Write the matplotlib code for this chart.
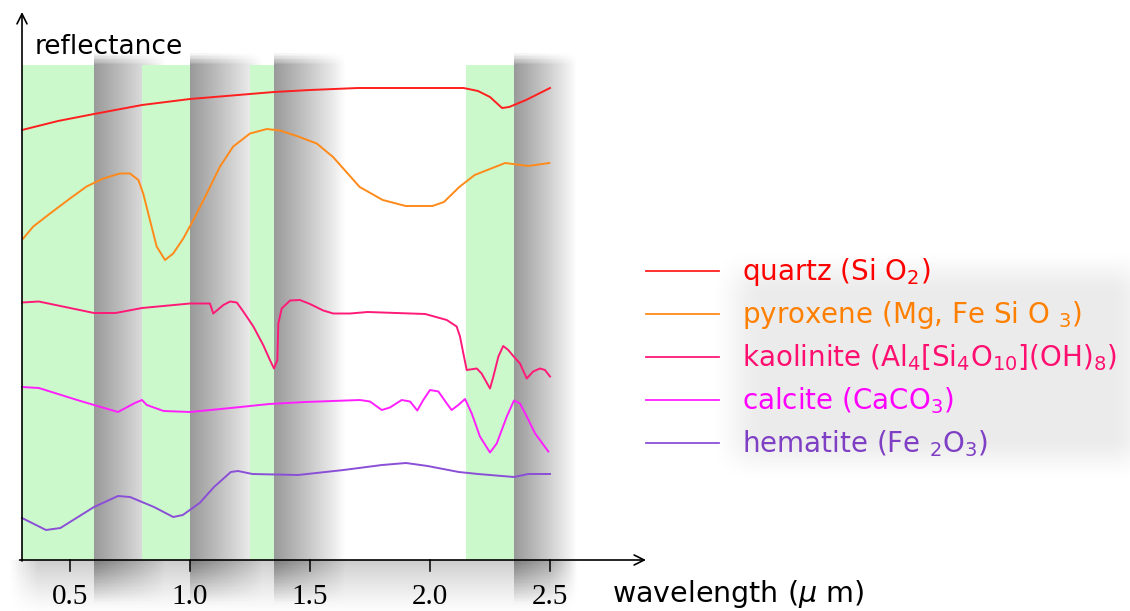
import numpy as np
import matplotlib
matplotlib.use("Agg")
import matplotlib.pyplot as plt
from matplotlib.patches import Rectangle

# wavelength (um) / reflectance (relative units, 0 = axis, ~100 = top of chart)
quartz_x = [0.30, 0.45, 0.60, 0.80, 1.00, 1.20, 1.35, 1.50, 1.70, 2.00, 2.14, 2.20, 2.25, 2.30, 2.33, 2.40, 2.50]
quartz_y = [86.0, 87.8, 89.2, 91.0, 92.2, 93.0, 93.6, 94.0, 94.4, 94.4, 94.4, 93.8, 92.6, 90.4, 90.6, 92.0, 94.4]

pyroxene_x = [0.305, 0.347, 0.417, 0.50, 0.569, 0.639, 0.708, 0.75, 0.785, 0.805, 0.833, 0.861, 0.896,
              0.93, 0.972, 1.014, 1.07, 1.125, 1.18, 1.25, 1.32, 1.375, 1.445, 1.528, 1.596, 1.707,
              1.803, 1.899, 2.01, 2.058, 2.122, 2.186, 2.313, 2.409, 2.497]
pyroxene_y = [64.3, 66.7, 69.3, 72.3, 74.7, 76.3, 77.3, 77.3, 76.0, 73.3, 68.0, 62.7, 60.0,
              61.3, 64.3, 68.0, 73.3, 78.7, 82.7, 85.3, 86.2, 85.9, 84.8, 83.3, 80.6, 74.6,
              72.0, 70.8, 70.8, 71.6, 74.6, 77.0, 79.4, 78.8, 79.4]

kaolinite_x = [0.30, 0.37, 0.60, 0.69, 0.80, 1.00, 1.083, 1.097, 1.139, 1.167, 1.195, 1.222, 1.264,
               1.305, 1.333, 1.35, 1.364, 1.368, 1.382, 1.417, 1.458, 1.50, 1.555, 1.597, 1.667,
               1.74, 1.98, 2.07, 2.111, 2.125, 2.139, 2.153, 2.195, 2.215, 2.25, 2.264, 2.285,
               2.305, 2.326, 2.347, 2.375, 2.403, 2.43, 2.458, 2.479, 2.50]
kaolinite_y = [51.5, 51.7, 49.4, 49.4, 50.4, 51.3, 51.3, 49.3, 51.0, 51.7, 51.5, 49.7, 46.7,
               43.0, 40.0, 38.3, 40.0, 47.3, 50.3, 51.9, 52.0, 51.2, 49.9, 49.3, 49.3,
               49.6, 49.2, 48.0, 46.7, 44.7, 41.3, 38.0, 38.3, 37.3, 34.3, 36.7, 40.7,
               42.8, 42.0, 40.8, 39.3, 36.3, 37.7, 38.3, 38.0, 36.7]

calcite_x = [0.30, 0.37, 0.53, 0.60, 0.70, 0.77, 0.80, 0.82, 0.89, 1.00, 1.17, 1.33, 1.48, 1.708,
             1.75, 1.799, 1.833, 1.882, 1.917, 1.947, 1.972, 2.0, 2.035, 2.07, 2.09, 2.118, 2.146,
             2.174, 2.208, 2.25, 2.278, 2.32, 2.35, 2.375, 2.403, 2.438, 2.493]
calcite_y = [34.6, 34.4, 32.0, 31.0, 29.6, 31.4, 32.0, 31.0, 29.8, 29.6, 30.4, 31.2, 31.6, 32.0,
             31.7, 30.0, 30.5, 32.0, 31.7, 29.9, 32.0, 34.0, 33.7, 31.3, 30.0, 31.0, 32.2,
             29.3, 24.7, 21.5, 23.3, 28.7, 31.9, 31.3, 28.7, 25.3, 21.7]

hematite_x = [0.30, 0.40, 0.46, 0.60, 0.70, 0.75, 0.85, 0.93, 0.97, 1.04, 1.10, 1.17, 1.20, 1.26, 1.45,
              1.64, 1.80, 1.90, 1.99, 2.12, 2.20, 2.35, 2.41, 2.50]
hematite_y = [8.4, 6.0, 6.4, 10.6, 12.8, 12.6, 10.6, 8.6, 9.0, 11.4, 14.6, 17.6, 17.8, 17.2, 17.0,
              18.0, 19.0, 19.4, 18.8, 17.6, 17.2, 16.6, 17.2, 17.2]

labels = [r"quartz (Si O$_2$)",
          r"pyroxene (Mg, Fe Si O $_3$)",
          r"kaolinite (Al$_4$[Si$_4$O$_{10}$](OH)$_8$)",
          r"calcite (CaCO$_3$)",
          r"hematite (Fe $_2$O$_3$)"]
line_colors = ["#ff1f1f", "#ff8a1a", "#ff1a78", "#ff1fff", "#8a4fd6"]
text_colors = ["#ff0000", "#ff8000", "#ff0f70", "#ff00ff", "#7f3fc4"]

# atmospheric windows (green) and the grey absorption fall-off after each
windows = [(0.30, 0.60), (0.80, 1.00), (1.25, 1.35), (2.15, 2.35)]
falloff = [0.30, 0.30, 0.30, 0.26]
ticks = [0.5, 1.0, 1.5, 2.0, 2.5]
tick_labels = ["0.5", "1.0", "1.5", "2.0", "2.5"]

plt.rcParams['font.family'] = ['DejaVu Sans']
plt.rcParams['mathtext.fontset'] = 'dejavusans'

fig = plt.figure(figsize=(11.3, 6.11), dpi=100)
ax = fig.add_axes([0, 0, 1, 1])


def shade(x0, width, peak, top=99.0, bottom=0.0, ftop=2.5, fbot=9.0):
    # black with alpha, so the strip only ever darkens what lies under it
    t = np.linspace(0, 1, 120)
    dark = peak * (1 - t) ** 0.9
    ys = np.linspace(bottom - fbot, top + ftop, 400)
    up = np.clip((ys - (bottom - fbot)) / fbot, 0, 1)
    dn = np.clip(((top + ftop) - ys) / ftop, 0, 1)
    img = np.zeros((len(ys), len(t), 4))
    img[..., 3] = np.minimum(up, dn)[:, None] * dark[None, :]
    ax.imshow(img, extent=(x0, x0 + width, bottom - fbot, top + ftop), origin='lower',
              aspect='auto', interpolation='nearest', zorder=1)


def soft_box(x0, x1, y0, y1, bx, by, alpha, zorder=0):
    xs = np.linspace(x0 - bx, x1 + bx, 240)
    ys = np.linspace(y0 - by, y1 + by, 240)
    sx = np.clip(np.minimum(xs - (x0 - bx), (x1 + bx) - xs) / (2 * bx), 0, 1)
    sy = np.clip(np.minimum(ys - (y0 - by), (y1 + by) - ys) / (2 * by), 0, 1)
    sx = sx * sx * (3 - 2 * sx)
    sy = sy * sy * (3 - 2 * sy)
    img = np.zeros((len(ys), len(xs), 4))
    img[..., 3] = alpha * sy[:, None] * sx[None, :]
    ax.imshow(img, extent=(xs[0], xs[-1], ys[0], ys[-1]), origin='lower',
              aspect='auto', interpolation='nearest', zorder=zorder)


def shadow_below(x0, x1, depth, peak, bx):
    xs = np.linspace(x0 - bx, x1 + bx, 300)
    ys = np.linspace(-depth, 0, 120)
    sx = np.clip(np.minimum(xs - (x0 - bx), (x1 + bx) - xs) / (2 * bx), 0, 1)
    sy = peak * (1 - (-ys / depth)) ** 1.3
    img = np.zeros((len(ys), len(xs), 4))
    img[..., 3] = sy[:, None] * sx[None, :]
    ax.imshow(img, extent=(xs[0], xs[-1], -depth, 0), origin='lower',
              aspect='auto', interpolation='nearest', zorder=0.5)


# soft drop shadows: behind the legend and underneath the chart
soft_box(3.27, 4.95, 20, 58, 0.12, 5, 0.08)
shadow_below(0.30, 2.56, 11.5, 0.2, 0.06)

for (a, b), w in zip(windows, falloff):
    shade(b, w, 0.40)
for a, b in windows:
    ax.add_patch(Rectangle((a, 0), b - a, 99, facecolor="#cbf9cb", edgecolor="none", zorder=2))

series = [(quartz_x, quartz_y), (pyroxene_x, pyroxene_y), (kaolinite_x, kaolinite_y),
          (calcite_x, calcite_y), (hematite_x, hematite_y)]
for (xs, ys), c in zip(series, line_colors):
    ax.plot(xs, ys, color=c, lw=1.4, zorder=3, solid_joinstyle='round')

# axes with arrows
arrow = dict(arrowstyle='->', color='black', lw=1.2, mutation_scale=18, shrinkA=0, shrinkB=0)
ax.annotate('', xy=(0.30, 109.6), xytext=(0.30, -0.2), arrowprops=arrow, zorder=5)
ax.annotate('', xy=(2.90, 0), xytext=(0.29, 0), arrowprops=arrow, zorder=5)

for t, lab in zip(ticks, tick_labels):
    ax.plot([t, t], [0, -2.2], color='black', lw=1.1, zorder=5)
    ax.text(t, -8.7, lab, ha='center', va='baseline', fontsize=21,
            family='Liberation Serif', zorder=5)

ax.text(0.354, 101.2, "reflectance", ha='left', va='baseline', fontsize=19, zorder=5)
ax.text(2.758, -8.3, r"wavelength ($\mu$ m)", ha='left', va='baseline', fontsize=20.5, zorder=5)

# legend
for i, (lab, lc, tc) in enumerate(zip(labels, line_colors, text_colors)):
    base = 56.0 - 8.6 * i
    ax.plot([2.90, 3.204], [base + 1.9, base + 1.9], color=lc, lw=1.3, zorder=5)
    ax.text(3.30, base, lab, color=tc, ha='left', va='baseline', fontsize=20, zorder=5)

ax.set_xlim(0.5 - 70 / 240, 0.5 + 1060 / 240)
ax.set_ylim(-10.2, 112)
ax.axis('off')

fig.savefig("out.png", dpi=100)
